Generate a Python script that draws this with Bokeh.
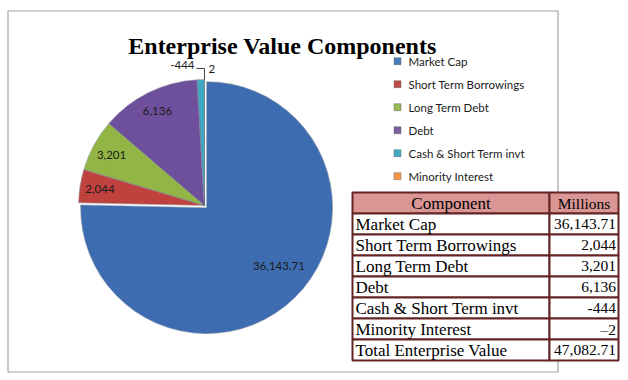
import math
from bokeh.plotting import figure
from bokeh.models import Range1d
from bokeh.core.properties import value
from bokeh.embed import file_html
from bokeh.resources import INLINE

# ---------------- data ----------------
title = "Enterprise Value Components"
components = ["Market Cap", "Short Term Borrowings", "Long Term Debt", "Debt",
              "Cash & Short Term invt", "Minority Interest"]
values = [36143.71, 2044, 3201, 6136, -444, 2]
slice_labels = ["36,143.71", "2,044", "3,201", "6,136", "-444", "2"]
table_header = ["Component", "Millions"]
table_values = ["36,143.71", "2,044", "3,201", "6,136", "-444", "\u20132"]
total_name = "Total Enterprise Value"
total_value = "47,082.71"
colors = ["#3d6db0", "#c0423f", "#92b545", "#6e4f9c", "#3ea8c3", "#f0883a"]
legend_colors = ["#4a7ebb", "#be4b48", "#98b954", "#7d60a0", "#46aac5", "#f79646"]

W, H = 628, 380
p = figure(width=W, height=H, x_range=Range1d(0, W), y_range=Range1d(0, H),
           output_backend="svg", toolbar_location=None, min_border=0)
p.axis.visible = False
p.grid.visible = False
p.outline_line_color = None
p.background_fill_color = "white"
p.border_fill_color = "white"

# chart frame
p.quad(left=[7.5], right=[557.5], bottom=[8.5], top=[369.5],
       fill_color=None, line_color="#a3a3a3", line_width=1.2)

# title
p.text(x=[282], y=[335], text=[title], text_align="center", text_baseline="alphabetic",
       text_font=value("Liberation Serif"), text_font_style="bold",
       text_font_size="24px", text_color="#000000")

# ---------------- pie ----------------
cx, cy, R = 204, 175, 126
mags = [abs(v) for v in values]
tot = sum(mags)
starts, ends = [], []
a = math.pi / 2
for m in mags:
    sw = 2 * math.pi * m / tot
    starts.append(a)
    ends.append(a - sw)
    a -= sw
mids = [(s + e) / 2 for s, e in zip(starts, ends)]
explode = [3, 0, 0, 0, 0, 0]
wx = [cx + ex * math.cos(m) for ex, m in zip(explode, mids)]
wy = [cy + ex * math.sin(m) for ex, m in zip(explode, mids)]

p.wedge(x=wx, y=wy, radius=R, start_angle=starts, end_angle=ends, direction="clock",
        fill_color=colors, line_color="#ffffff", line_alpha=0.35, line_width=1)
p.wedge(x=wx, y=wy, radius=R, start_angle=starts, end_angle=ends, direction="clock",
        fill_color=None, line_color="#1e2f48", line_alpha=0.25, line_width=1)

# inside labels
lab_r = [0.74, 0.84, 0.84, 0.84]
lab_da = [math.radians(6.5), 0, 0, 0]
lx = [wx[i] + lab_r[i] * R * math.cos(mids[i] + lab_da[i]) for i in range(4)]
ly = [wy[i] + lab_r[i] * R * math.sin(mids[i] + lab_da[i]) for i in range(4)]
p.text(x=lx, y=ly, text=slice_labels[:4], text_align="center", text_baseline="middle",
       text_font=value("Lato"), text_font_size="11.5px", text_color="#1a1a1a")

# outside labels with leader
ax = cx + R * math.cos(mids[5])
ay = cy + R * math.sin(mids[5])
p.line(x=[ax - 8, ax, ax], y=[ay + 11, ay + 11, ay], line_color="#404040", line_width=1)
p.text(x=[ax - 10], y=[ay + 15], text=[slice_labels[4]], text_align="right",
       text_baseline="middle", text_font=value("Lato"), text_font_size="11.5px",
       text_color="#1a1a1a")
p.text(x=[ax + 4], y=[ay + 11], text=[slice_labels[5]], text_align="left",
       text_baseline="middle", text_font=value("Lato"), text_font_size="11.5px",
       text_color="#1a1a1a")

# ---------------- legend ----------------
lg_x, lg_y0, lg_dy = 397, 319.3, 23
lg_y = [lg_y0 - i * lg_dy for i in range(len(components))]
p.rect(x=[lg_x] * len(components), y=lg_y, width=7, height=7,
       fill_color=legend_colors, line_color="#555555", line_alpha=0.5, line_width=0.8)
p.text(x=[lg_x + 11] * len(components), y=lg_y, text=components, text_align="left",
       text_baseline="middle", text_font=value("Lato"), text_font_size="11.5px",
       text_color="#1a1a1a")

# ---------------- table ----------------
tx0, tx1, tx2 = 352, 549, 618
ty0, rh = 188, 21
names = [table_header[0]] + components + [total_name]
vals = [table_header[1]] + table_values + [total_value]
n = len(names)
tops = [ty0 - i * rh for i in range(n)]
bots = [t - rh for t in tops]
fills = ["#d99694"] + ["#ffffff"] * (n - 1)
p.quad(left=[tx0] * n, right=[tx1] * n, top=tops, bottom=bots, fill_color=fills,
       line_color="#632523", line_width=2)
p.quad(left=[tx1] * n, right=[tx2] * n, top=tops, bottom=bots, fill_color=fills,
       line_color="#632523", line_width=2)
mid_y = [t - rh / 2 for t in tops]
p.text(x=[(tx0 + tx1) / 2], y=[mid_y[0]], text=[table_header[0]],
       text_align="center", text_baseline="middle", text_font=value("Liberation Serif"),
       text_font_size="17px", text_color="#000000")
p.text(x=[(tx1 + tx2) / 2], y=[mid_y[0]], text=[table_header[1]],
       text_align="center", text_baseline="middle", text_font=value("Liberation Serif"),
       text_font_size="15.5px", text_color="#000000")
p.text(x=[tx0 + 3] * (n - 1), y=mid_y[1:], text=names[1:], text_align="left",
       text_baseline="middle", text_font=value("Liberation Serif"),
       text_font_size="17px", text_color="#000000")
p.text(x=[tx2 - 2.5] * (n - 1), y=mid_y[1:], text=vals[1:], text_align="right",
       text_baseline="middle", text_font=value("Liberation Serif"),
       text_font_size="15.5px", text_color="#000000")

open("out.html", "w").write(file_html(p, INLINE))
